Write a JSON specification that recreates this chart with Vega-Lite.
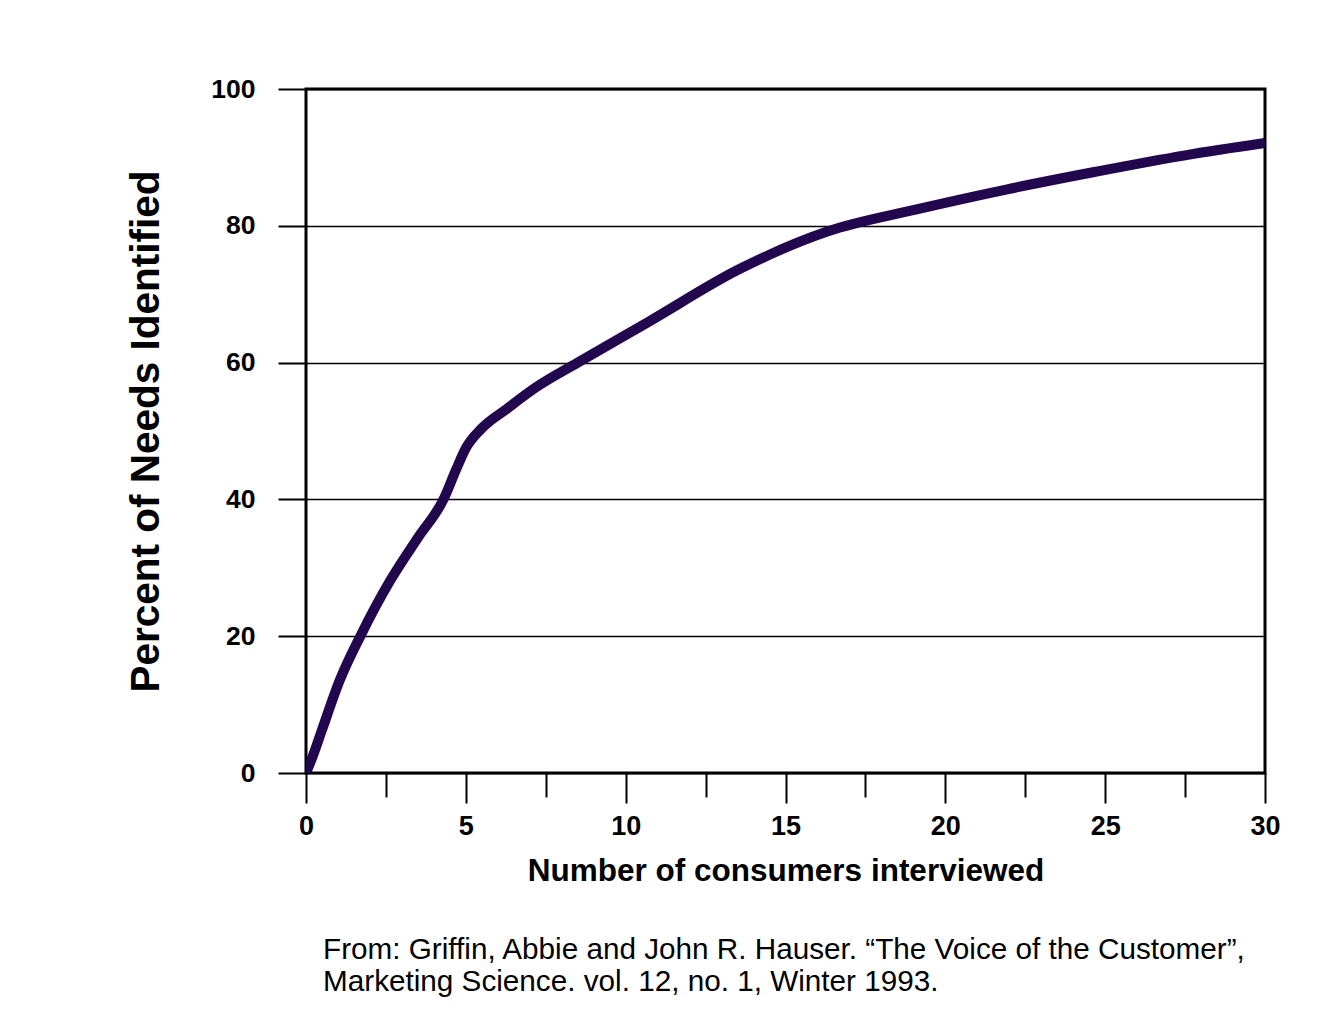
{
  "$schema": "https://vega.github.io/schema/vega-lite/v6.json",
  "autosize": {"type": "none"},
  "padding": {"left": 306, "top": 89, "right": 67, "bottom": 257},
  "width": 959,
  "height": 684,
  "background": "white",
  "title": {
    "text": ["From: Griffin, Abbie and John R. Hauser. “The Voice of the Customer”,", "Marketing Science. vol. 12, no. 1, Winter 1993."],
    "orient": "bottom",
    "anchor": "start",
    "frame": "group",
    "dx": 17,
    "offset": 49,
    "font": "Liberation Sans",
    "fontSize": 29.7,
    "fontWeight": "normal",
    "lineHeight": 32,
    "color": "black"
  },
  "config": {
    "view": {"stroke": "black", "strokeWidth": 3},
    "axis": {
      "domain": false,
      "tickColor": "black",
      "tickWidth": 2,
      "labelColor": "black",
      "titleColor": "black",
      "labelFont": "Liberation Sans",
      "labelFontWeight": "bold",
      "titleFont": "Liberation Sans",
      "titleFontWeight": "bold"
    }
  },
  "data": {
    "values": [
      {"consumers": 0, "pct": 0},
      {"consumers": 0.2, "pct": 2.3},
      {"consumers": 0.5, "pct": 6.3},
      {"consumers": 1.06, "pct": 13.6},
      {"consumers": 1.7, "pct": 20},
      {"consumers": 2.63, "pct": 28.1},
      {"consumers": 3.5, "pct": 34.4},
      {"consumers": 4.3, "pct": 40},
      {"consumers": 4.7, "pct": 44.4},
      {"consumers": 5.0, "pct": 47.5},
      {"consumers": 5.5, "pct": 50.4},
      {"consumers": 6.3, "pct": 53.3},
      {"consumers": 7.2, "pct": 56.4},
      {"consumers": 8.5, "pct": 60},
      {"consumers": 10.73, "pct": 66.0},
      {"consumers": 13.53, "pct": 73.6},
      {"consumers": 16.33, "pct": 79.2},
      {"consumers": 19.1, "pct": 82.4},
      {"consumers": 21.9, "pct": 85.3},
      {"consumers": 24.7, "pct": 87.9},
      {"consumers": 27.5, "pct": 90.3},
      {"consumers": 30, "pct": 92.1}
    ]
  },
  "mark": {"type": "line", "color": "#22064e", "strokeWidth": 10, "interpolate": "monotone", "clip": true},
  "encoding": {
    "x": {
      "field": "consumers",
      "type": "quantitative",
      "scale": {"domain": [0, 30], "nice": false, "zero": false},
      "axis": {
        "title": "Number of consumers interviewed",
        "titleFontSize": 31.5,
        "titlePadding": 16,
        "values": [0, 2.5, 5, 7.5, 10, 12.5, 15, 17.5, 20, 22.5, 25, 27.5, 30],
        "labelExpr": "datum.value % 5 == 0 ? format(datum.value, 'd') : ''",
        "tickSize": {"condition": {"test": "datum.value % 5 == 0", "value": 30}, "value": 24},
        "labelFontSize": 27,
        "labelPadding": 10,
        "labelFlush": false,
        "labelOverlap": false,
        "grid": false
      }
    },
    "y": {
      "field": "pct",
      "type": "quantitative",
      "scale": {"domain": [0, 100], "nice": false},
      "axis": {
        "title": "Percent of Needs Identified",
        "titleFontSize": 40.5,
        "titlePadding": 43,
        "values": [0, 20, 40, 60, 80, 100],
        "tickSize": 28,
        "labelFontSize": 26.5,
        "labelPadding": 23,
        "labelFlush": false,
        "grid": true,
        "gridColor": "black",
        "gridWidth": 1.5,
        "gridOpacity": 1
      }
    }
  }
}
